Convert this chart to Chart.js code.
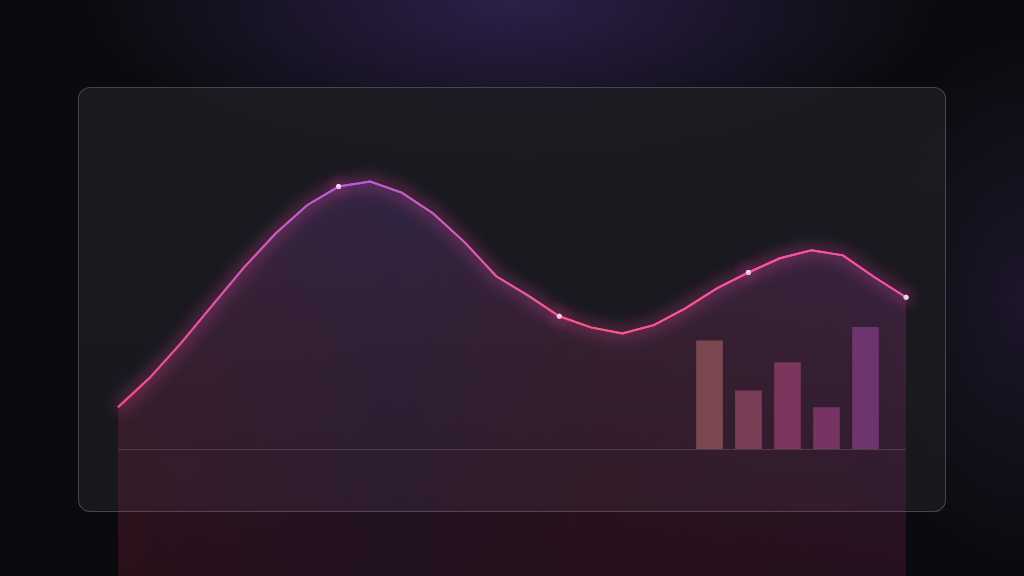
<!DOCTYPE html>
<html>
<head>
<meta charset="utf-8">
<script src="https://cdn.jsdelivr.net/npm/chart.js@4.4.1/dist/chart.umd.min.js"></script>
<style>
  html, body { margin: 0; padding: 0; }
  body {
    width: 1024px; height: 576px; overflow: hidden; position: relative;
    background:
      radial-gradient(ellipse 420px 170px at 512px 0px, rgba(72, 48, 120, 0.55), rgba(72, 48, 120, 0) 100%),
      radial-gradient(ellipse 160px 260px at 1024px 300px, rgba(60, 42, 90, 0.35), rgba(60, 42, 90, 0) 100%),
      #0b0b0f;
  }
  .panel {
    position: absolute; left: 78px; top: 87px; width: 866px; height: 423px;
    border-radius: 12px; border: 1px solid rgba(255, 255, 255, 0.2);
    background: linear-gradient(180deg, rgba(28, 28, 34, 0.92), rgba(25, 25, 30, 0.92));
  }
  #lineChart { position: absolute; left: 0; top: 0; }
  #barChart { position: absolute; left: 690px; top: 282px; }
</style>
</head>
<body>
<div class="panel"></div>
<canvas id="lineChart" width="1024" height="576"></canvas>
<canvas id="barChart" width="195" height="167"></canvas>
<script>
// main curve, one value per step
const steps = ["1", "2", "3", "4", "5", "6", "7", "8", "9", "10", "11", "12", "13",
  "14", "15", "16", "17", "18", "19", "20", "21", "22", "23", "24", "25", "26"];
const waveValues = [13.2, 22.4, 33.4, 45.4, 57.3, 68.0, 76.9, 82.8, 84.4, 80.9, 74.3, 65.2, 54.5,
  48.5, 41.9, 38.4, 36.5, 39.1, 44.4, 50.7, 55.7, 60.2, 62.7, 61.1, 54.2, 47.9];
// steps that get a dot
const markedSteps = ["8", "15", "21", "26"];

// small bar inset
const barLabels = ["A", "B", "C", "D", "E"];
const barValues = [65, 35, 52, 25, 73];
const barColors = ["#7b4750", "#7a3e56", "#7b355d", "#763364", "#6f346e"];

// horizontal stroke gradient across the chart area
const strokeGradient = (ctx) => {
  const area = ctx.chart.chartArea;
  if (!area) return "#f0508a";
  const g = ctx.chart.ctx.createLinearGradient(area.left, 0, area.right, 0);
  g.addColorStop(0, "#ff4d7e");
  g.addColorStop(0.3, "#b45ee0");
  g.addColorStop(0.58, "#ff5a80");
  g.addColorStop(1, "#ff4fab");
  return g;
};

const fillGradient = (ctx) => {
  const area = ctx.chart.chartArea;
  if (!area) return "rgba(150,60,150,0.2)";
  const g = ctx.chart.ctx.createLinearGradient(0, area.top, 0, area.bottom);
  g.addColorStop(0, "rgba(160, 90, 230, 0.14)");
  g.addColorStop(0.45, "rgba(180, 70, 150, 0.12)");
  g.addColorStop(1, "rgba(150, 30, 70, 0.11)");
  return g;
};

// side tint: red on the left, violet in the middle, magenta on the right
const tintGradient = (ctx) => {
  const area = ctx.chart.chartArea;
  if (!area) return "rgba(150,60,150,0.05)";
  const g = ctx.chart.ctx.createLinearGradient(area.left, 0, area.right, 0);
  g.addColorStop(0, "rgba(255, 60, 90, 0.07)");
  g.addColorStop(0.35, "rgba(140, 80, 230, 0.06)");
  g.addColorStop(0.6, "rgba(230, 70, 110, 0.06)");
  g.addColorStop(1, "rgba(200, 70, 200, 0.07)");
  return g;
};

// glow on the line dataset only, drawn twice for a stronger halo
const glowPlugin = {
  id: "glow",
  beforeDatasetDraw(chart, args) {
    if (args.index !== 2) return;
    const ctx = chart.ctx;
    ctx.save();
    ctx.shadowColor = "rgba(255, 80, 180, 0.9)";
    ctx.shadowBlur = 16;
    args.meta.controller.draw();
  },
  afterDatasetDraw(chart, args) {
    if (args.index !== 2) return;
    chart.ctx.restore();
  },
};

// zero line
const baselinePlugin = {
  id: "baseline",
  beforeDatasetsDraw(chart) {
    const y = chart.scales.y.getPixelForValue(0);
    const { left, right } = chart.chartArea;
    const ctx = chart.ctx;
    ctx.save();
    ctx.strokeStyle = "rgba(255, 255, 255, 0.16)";
    ctx.lineWidth = 1;
    ctx.beginPath();
    ctx.moveTo(left, Math.round(y) + 0.5);
    ctx.lineTo(right, Math.round(y) + 0.5);
    ctx.stroke();
    ctx.restore();
  },
};

new Chart(document.getElementById("lineChart").getContext("2d"), {
  type: "line",
  data: {
    labels: steps,
    datasets: [
      {
        data: waveValues,
        borderWidth: 0,
        pointRadius: 0,
        fill: "start",
        backgroundColor: fillGradient,
        tension: 0,
      },
      {
        data: waveValues,
        borderWidth: 0,
        pointRadius: 0,
        fill: "start",
        backgroundColor: tintGradient,
        tension: 0,
      },
      {
        data: waveValues,
        borderColor: strokeGradient,
        borderWidth: 2,
        fill: false,
        tension: 0,
        clip: false,
        pointRadius: steps.map((s) => (markedSteps.includes(s) ? 2.5 : 0)),
        pointHoverRadius: 0,
        pointBackgroundColor: "#ffd6f2",
        pointBorderWidth: 0,
      },
    ],
  },
  options: {
    responsive: false,
    animation: false,
    layout: { autoPadding: false, padding: { left: 118, right: 118, top: 132, bottom: 0 } },
    plugins: { legend: { display: false }, tooltip: { enabled: false } },
    scales: {
      x: { display: false },
      y: { display: false, min: -40, max: 100 },
    },
  },
  plugins: [baselinePlugin, glowPlugin],
});

new Chart(document.getElementById("barChart").getContext("2d"), {
  type: "bar",
  data: {
    labels: barLabels,
    datasets: [
      {
        data: barValues,
        backgroundColor: barColors,
        borderWidth: 0,
        barPercentage: 0.684,
        categoryPercentage: 1,
      },
    ],
  },
  options: {
    responsive: false,
    animation: false,
    layout: { autoPadding: false, padding: 0 },
    plugins: { legend: { display: false }, tooltip: { enabled: false } },
    scales: {
      x: { display: false },
      y: { display: false, min: 0, max: 100 },
    },
  },
});
</script>
</body>
</html>
